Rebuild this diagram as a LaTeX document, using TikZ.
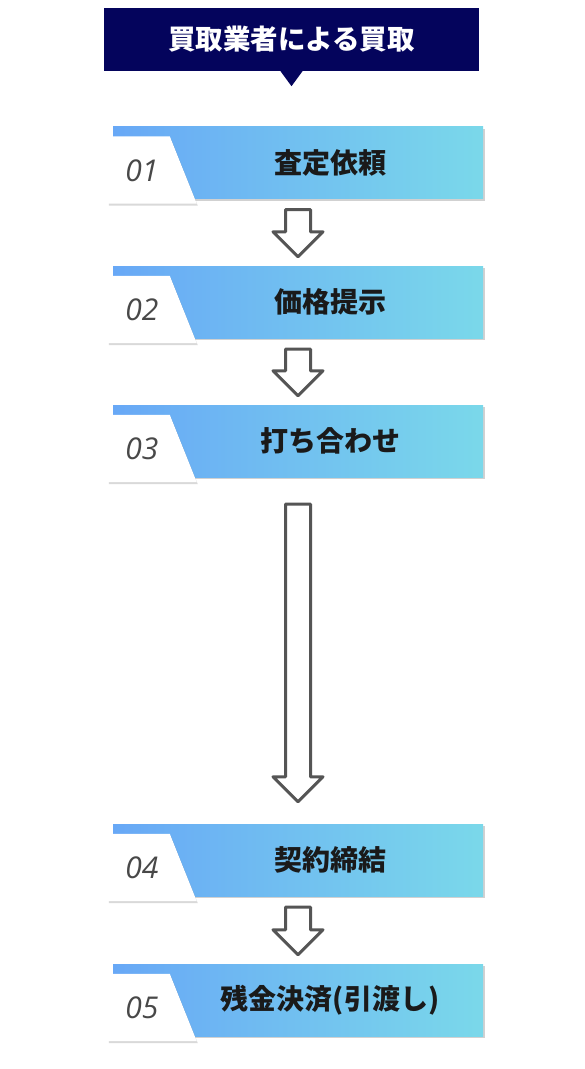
\documentclass[tikz,border=0pt]{standalone}
\usepackage{fontspec}
\usetikzlibrary{calc,shadows}
\newfontfamily\jpfont{Noto Sans CJK JP}
\newfontfamily\numfont{Open Sans}
\definecolor{headnavy}{RGB}{4,4,92}
\definecolor{boxblue}{RGB}{104,168,246}
\definecolor{boxcyan}{RGB}{122,216,234}
\definecolor{titleblack}{RGB}{26,26,26}
\definecolor{numgray}{RGB}{72,72,72}
\definecolor{arrowgray}{RGB}{85,85,85}
\tikzset{
  headbox/.style={fill=headnavy, minimum width=375pt, minimum height=63pt, inner sep=0pt,
    text=white, font=\jpfont\bfseries\fontsize{27.5}{27.5}\selectfont},
  stepbox/.style={minimum width=370pt, minimum height=72pt, inner sep=0pt,
    left color=boxblue, right color=boxcyan,
    drop shadow={shadow xshift=2pt, shadow yshift=-2pt, fill=black, opacity=0.18}},
  steptext/.style={text=titleblack, font=\jpfont\bfseries\fontsize{28}{28}\selectfont},
  stepnum/.style={text=numgray, font=\numfont\itshape\fontsize{30}{30}\selectfont},
  tagfill/.style={fill=white,
    drop shadow={shadow xshift=1pt, shadow yshift=-2pt, fill=black, opacity=0.15}},
  flowarrow/.style={draw=arrowgray, fill=white, line width=3pt, line join=round},
}
\newcommand{\hollowdown}[2]{%
  \draw[flowarrow] ($(#1)+(-12.5,0)$) -- ($(#2)+(-12.5,-25)$) -- ($(#2)+(-25,-25)$)
    -- (#2) -- ($(#2)+(25,-25)$) -- ($(#2)+(12.5,-25)$) -- ($(#1)+(12.5,0)$) -- cycle;}
\newcommand{\steptag}[1]{%
  \draw[tagfill,draw=none] ([xshift=-5pt,yshift=-10pt]#1.north west) -- ([xshift=57pt,yshift=-10pt]#1.north west)
    -- ([xshift=84pt,yshift=-5pt]#1.south west) -- ([xshift=-5pt,yshift=-5pt]#1.south west) -- cycle;}
\begin{document}
\begin{tikzpicture}[x=1pt,y=-1pt]
 \useasboundingbox[fill=white] (0,0) rectangle (585,1069);
 % header
 \node[headbox] (head) at (291.5,39.5) {買取業者による買取};
 \fill[headnavy] ([xshift=-11pt]head.south) -- ([xshift=11pt]head.south) -- ([yshift=-15pt]head.south) -- cycle;
 % steps
 \node[stepbox] (s1) at (298,162.5) {};
 \node[stepbox] (s2) at (298,302) {};
 \node[stepbox] (s3) at (298,441) {};
 \node[stepbox] (s4) at (298,860) {};
 \node[stepbox] (s5) at (298,1000) {};
 \steptag{s1}
 \steptag{s2}
 \steptag{s3}
 \steptag{s4}
 \steptag{s5}
 \node[stepnum] (n1) at ([xshift=29pt,yshift=-8pt]s1.west) {01};
 \node[stepnum] (n2) at ([xshift=29pt,yshift=-8pt]s2.west) {02};
 \node[stepnum] (n3) at ([xshift=29pt,yshift=-8pt]s3.west) {03};
 \node[stepnum] (n4) at ([xshift=29pt,yshift=-8pt]s4.west) {04};
 \node[stepnum] (n5) at ([xshift=29pt,yshift=-8pt]s5.west) {05};
 \node[steptext] (t1) at ([xshift=32pt]s1.center) {査定依頼};
 \node[steptext] (t2) at ([xshift=32pt]s2.center) {価格提示};
 \node[steptext] (t3) at ([xshift=32pt]s3.center) {打ち合わせ};
 \node[steptext] (t4) at ([xshift=32pt]s4.center) {契約締結};
 \node[steptext] (t5) at ([xshift=32pt]s5.center) {残金決済(引渡し)};
 % arrows
 \coordinate (a1s) at ([yshift=-11pt]s1.south); \coordinate (a1e) at ([yshift=9pt]s2.north);
 \coordinate (a2s) at ([yshift=-11pt]s2.south); \coordinate (a2e) at ([yshift=9pt]s3.north);
 \coordinate (a3s) at ([yshift=-27pt]s3.south); \coordinate (a3e) at ([yshift=22pt]s4.north);
 \coordinate (a4s) at ([yshift=-11pt]s4.south); \coordinate (a4e) at ([yshift=9pt]s5.north);
 \hollowdown{a1s}{a1e}
 \hollowdown{a2s}{a2e}
 \hollowdown{a3s}{a3e}
 \hollowdown{a4s}{a4e}
\end{tikzpicture}
\end{document}
